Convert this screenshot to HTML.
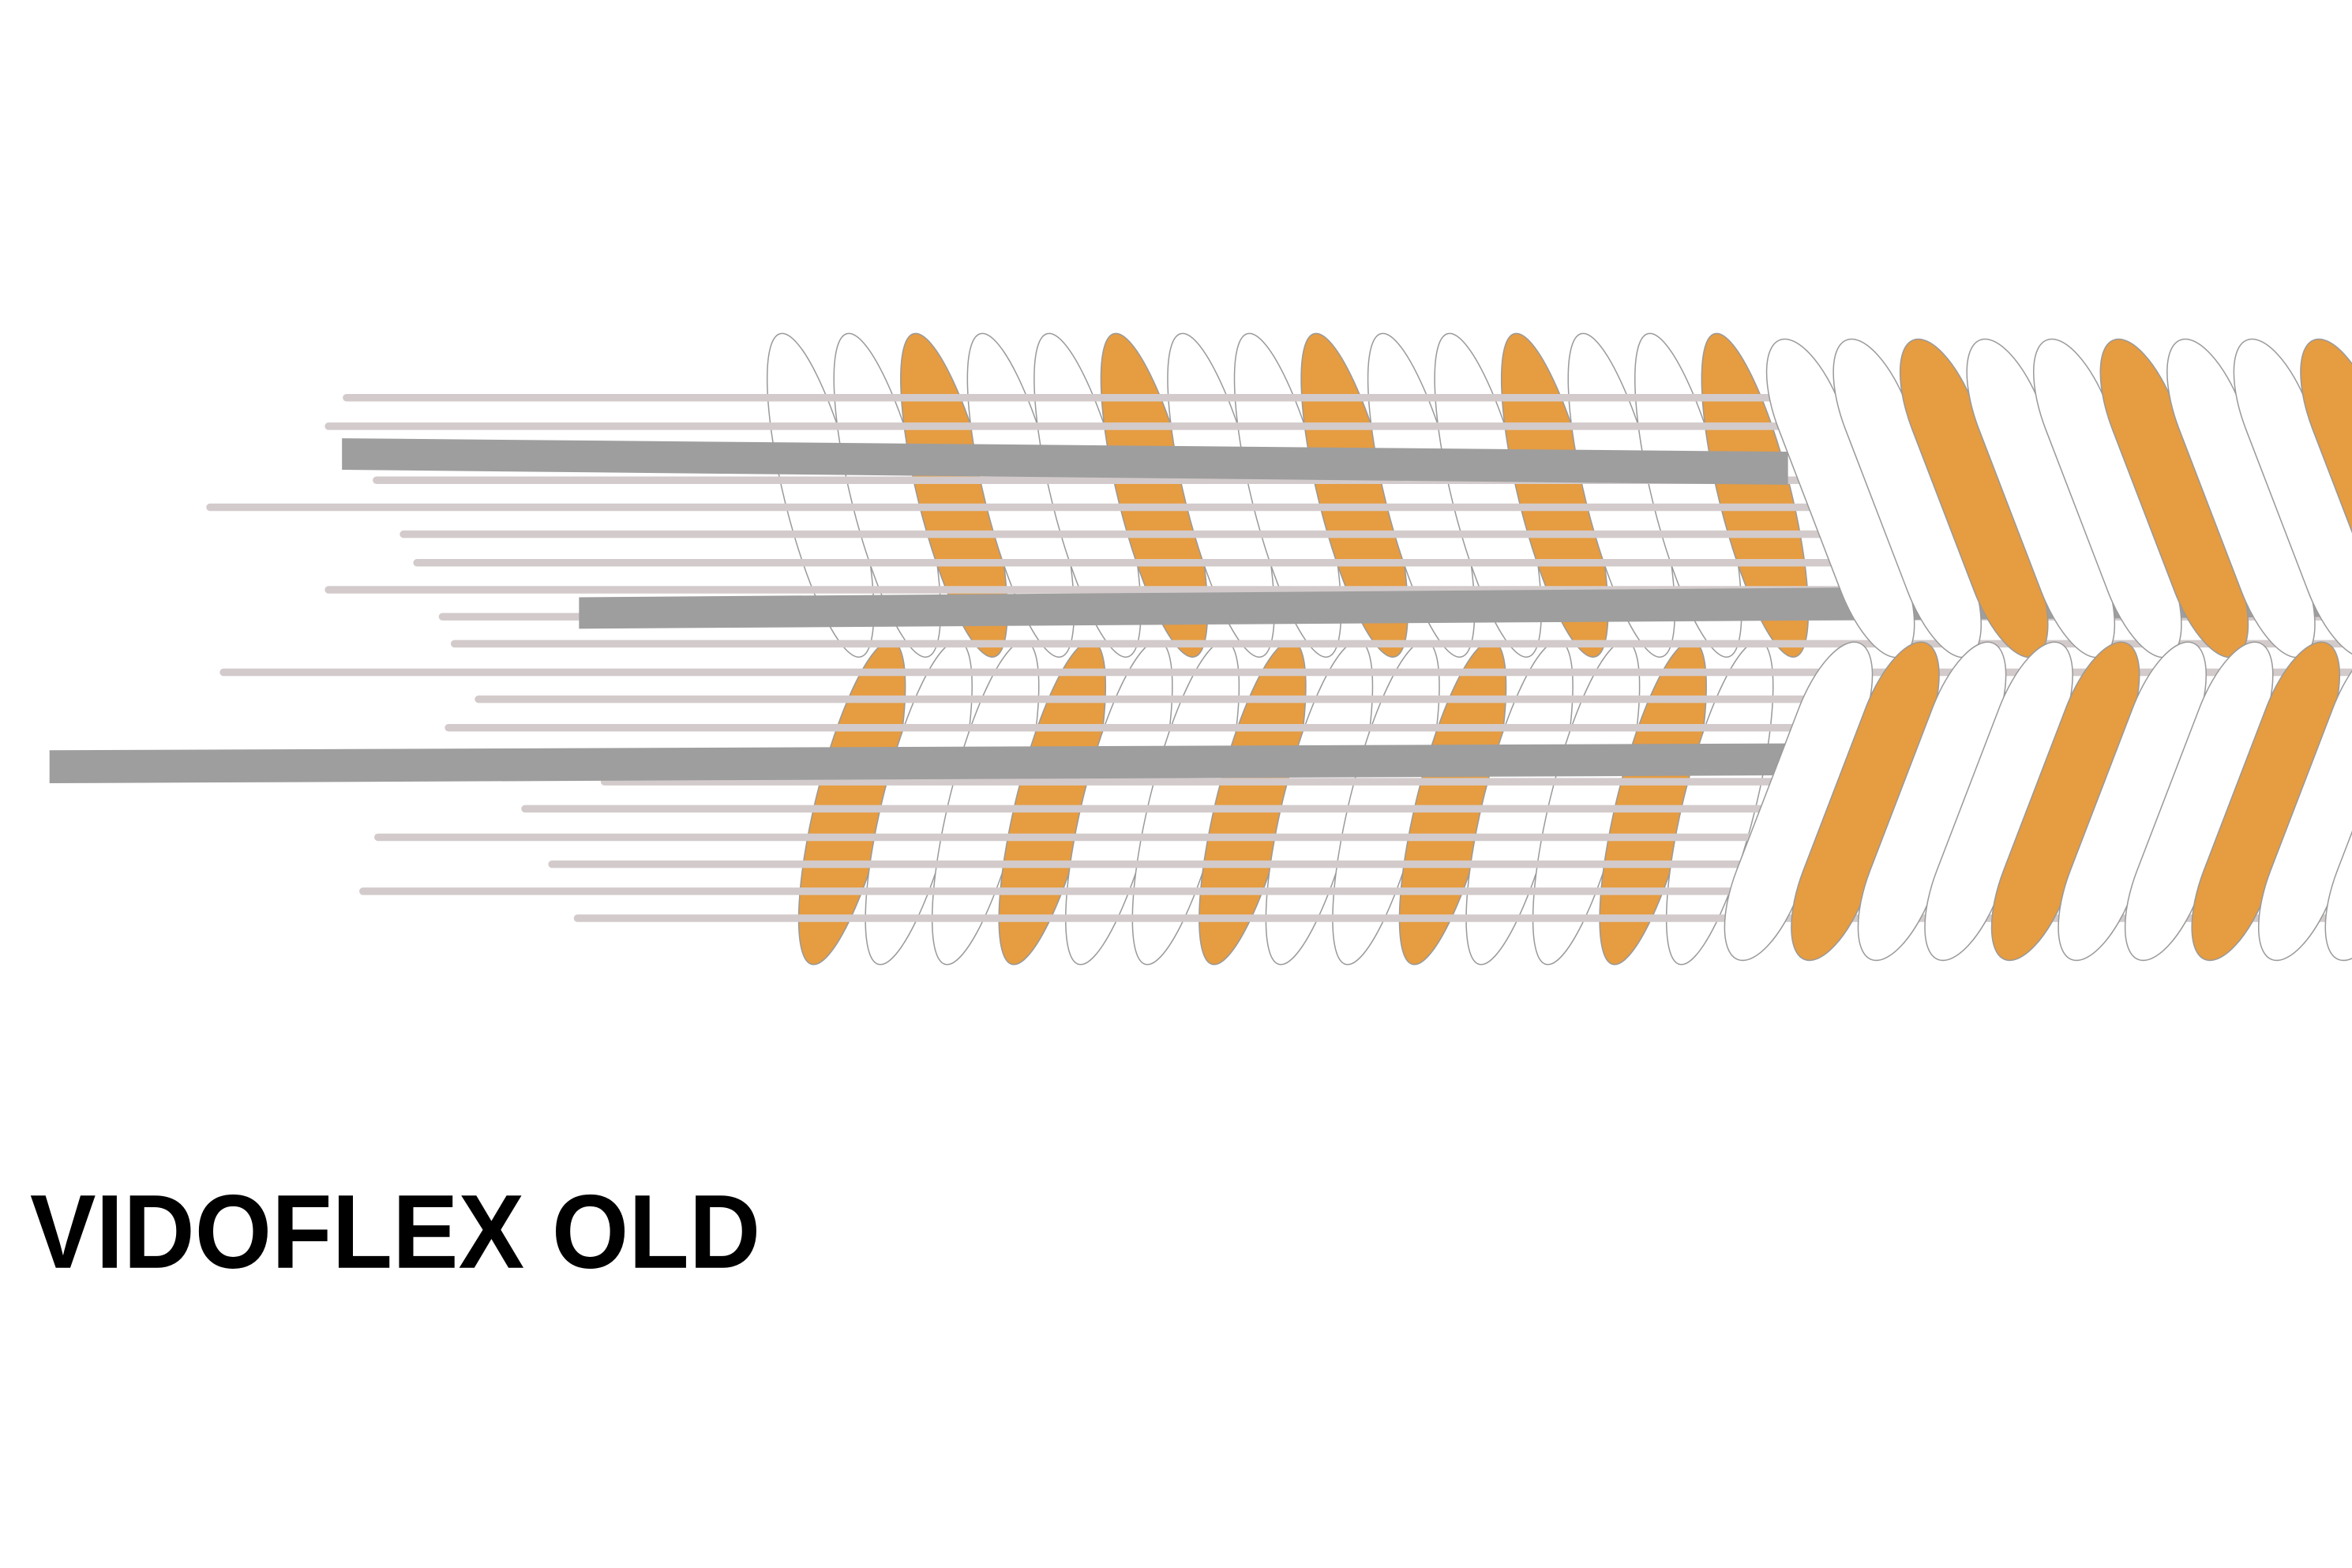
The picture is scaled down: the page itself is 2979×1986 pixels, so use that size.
<!DOCTYPE html>
<html><head><meta charset="utf-8"><style>
html,body{margin:0;padding:0;background:#fff;}
svg{display:block;}
</style></head><body>
<svg width="2979" height="1986" viewBox="0 0 1568 1045" xmlns="http://www.w3.org/2000/svg">
<rect width="1568" height="1045" fill="#fff"/>
<defs>
<ellipse id="lt" cx="0" cy="0" rx="24" ry="111" transform="rotate(-14)"/>
<ellipse id="lb" cx="0" cy="0" rx="24" ry="111" transform="rotate(14)"/>
<rect id="rt" x="-22" y="-113" width="44" height="226" rx="22" ry="55" transform="rotate(-21)"/>
<rect id="rb" x="-22" y="-113" width="44" height="226" rx="22" ry="55" transform="rotate(21)"/>
</defs>
<g stroke="#9a9a9a" stroke-width="0.8">
<g fill="#fff" transform="translate(-5,0)">
<use href="#lt" x="552" y="330"/><use href="#lt" x="596.5" y="330"/><use href="#lt" x="641" y="330" fill="#e69c41"/>
<use href="#lt" x="685.5" y="330"/><use href="#lt" x="730" y="330"/><use href="#lt" x="774.5" y="330" fill="#e69c41"/>
<use href="#lt" x="819" y="330"/><use href="#lt" x="863.5" y="330"/><use href="#lt" x="908" y="330" fill="#e69c41"/>
<use href="#lt" x="952.5" y="330"/><use href="#lt" x="997" y="330"/><use href="#lt" x="1041.5" y="330" fill="#e69c41"/>
<use href="#lt" x="1086" y="330"/><use href="#lt" x="1130.5" y="330"/><use href="#lt" x="1175" y="330" fill="#e69c41"/>
</g>
<g fill="#fff" transform="translate(-4,0)">
<use href="#lb" x="572" y="535" fill="#e69c41"/><use href="#lb" x="616.5" y="535"/><use href="#lb" x="661" y="535"/>
<use href="#lb" x="705.5" y="535" fill="#e69c41"/><use href="#lb" x="750" y="535"/><use href="#lb" x="794.5" y="535"/>
<use href="#lb" x="839" y="535" fill="#e69c41"/><use href="#lb" x="883.5" y="535"/><use href="#lb" x="928" y="535"/>
<use href="#lb" x="972.5" y="535" fill="#e69c41"/><use href="#lb" x="1017" y="535"/><use href="#lb" x="1061.5" y="535"/>
<use href="#lb" x="1106" y="535" fill="#e69c41"/><use href="#lb" x="1150.5" y="535"/>
</g>
</g>
<g stroke="#d3cbcb" stroke-width="5" stroke-linecap="round">
<line x1="231" y1="265" x2="1568" y2="265"/>
<line x1="219" y1="284" x2="1568" y2="284"/>
<line x1="251" y1="320" x2="1568" y2="320"/>
<line x1="140" y1="338" x2="1568" y2="338"/>
<line x1="269" y1="356" x2="1568" y2="356"/>
<line x1="278" y1="375" x2="1568" y2="375"/>
<line x1="219" y1="393" x2="1568" y2="393"/>
<line x1="295" y1="411" x2="1568" y2="411"/>
<line x1="303" y1="429" x2="1568" y2="429"/>
<line x1="149" y1="448" x2="1568" y2="448"/>
<line x1="319" y1="466" x2="1568" y2="466"/>
<line x1="299" y1="485" x2="1568" y2="485"/>
<line x1="403" y1="521" x2="1568" y2="521"/>
<line x1="350" y1="539" x2="1568" y2="539"/>
<line x1="252" y1="558" x2="1568" y2="558"/>
<line x1="368" y1="576" x2="1568" y2="576"/>
<line x1="242" y1="594" x2="1568" y2="594"/>
<line x1="385" y1="612" x2="1568" y2="612"/>
</g>
<g fill="#9e9e9e">
<polygon points="228,292 1192,301 1192,323 228,313"/>
<polygon points="386,398 1568,389 1568,411 386,419"/>
<polygon points="33,500 1568,494 1568,515 33,522"/>
</g>
<g stroke="#9a9a9a" stroke-width="0.8">
<g fill="#fff" transform="translate(-12,0)">
<use href="#rt" x="1239" y="332"/><use href="#rt" x="1283.5" y="332"/><use href="#rt" x="1328" y="332" fill="#e69c41"/>
<use href="#rt" x="1372.5" y="332"/><use href="#rt" x="1417" y="332"/><use href="#rt" x="1461.5" y="332" fill="#e69c41"/>
<use href="#rt" x="1506" y="332"/><use href="#rt" x="1550.5" y="332"/><use href="#rt" x="1595" y="332" fill="#e69c41"/>
</g>
<g fill="#fff" transform="translate(-15,0)">
<use href="#rb" x="1214" y="534"/><use href="#rb" x="1258.5" y="534" fill="#e69c41"/><use href="#rb" x="1303" y="534"/>
<use href="#rb" x="1347.5" y="534"/><use href="#rb" x="1392" y="534" fill="#e69c41"/><use href="#rb" x="1436.5" y="534"/>
<use href="#rb" x="1481" y="534"/><use href="#rb" x="1525.5" y="534" fill="#e69c41"/><use href="#rb" x="1570" y="534"/><use href="#rb" x="1614.5" y="534"/>
</g>
</g>
<text x="20" y="845" font-family="Liberation Sans, sans-serif" font-weight="bold" font-size="70" fill="#000" textLength="487" lengthAdjust="spacingAndGlyphs">VIDOFLEX OLD</text>
</svg>
</body></html>
